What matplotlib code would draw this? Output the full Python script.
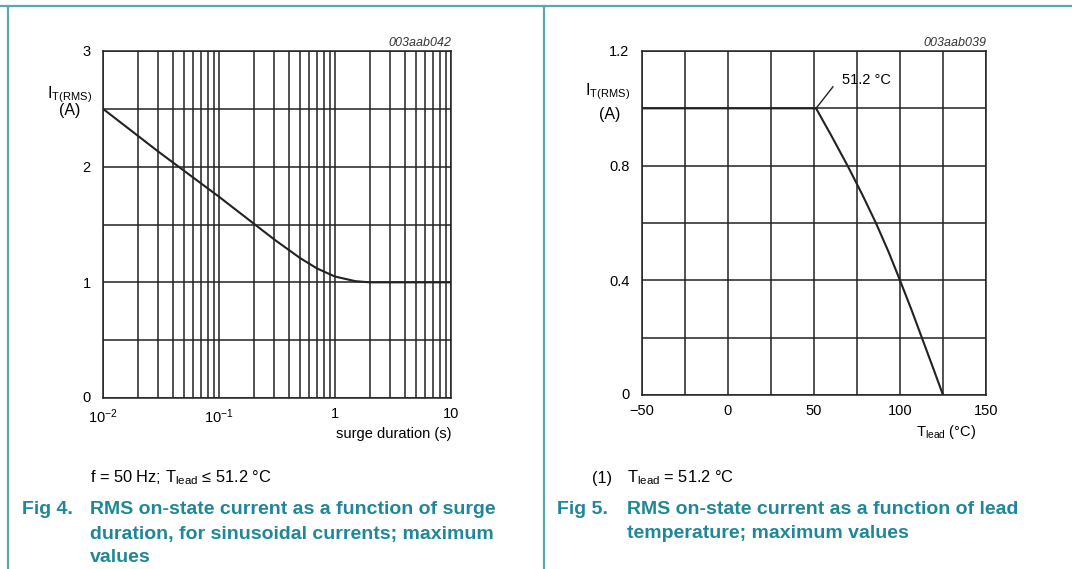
import numpy as np
import matplotlib
matplotlib.use("Agg")
import matplotlib.pyplot as plt
from matplotlib.lines import Line2D
from matplotlib.ticker import LogLocator, NullFormatter, FixedLocator
import matplotlib.transforms as mtransforms

plt.rcParams['font.family'] = ['Liberation Sans', 'DejaVu Sans']
plt.rcParams['mathtext.fontset'] = 'custom'
plt.rcParams['mathtext.rm'] = 'Liberation Sans'
plt.rcParams['mathtext.it'] = 'Liberation Sans:italic'
plt.rcParams['mathtext.bf'] = 'Liberation Sans:bold'
plt.rcParams['mathtext.default'] = 'regular'

# ---- data: Fig 4 (surge duration) ----
surge_t = [0.01, 0.03, 0.1, 0.3, 0.5, 0.7, 1.0, 1.5, 2.0, 10.0]
surge_i = [2.5, 2.13, 1.74, 1.37, 1.21, 1.12, 1.05, 1.01, 1.0, 1.0]
left_yticks = [0, 1, 2, 3]
left_xticks = [0.01, 0.1, 1, 10]
left_xticklabels = [r'$10^{-2}$', r'$10^{-1}$', '1', '10']

# ---- data: Fig 5 (lead temperature) ----
lead_t = [-50, 51.2, 60.5, 69.5, 78, 86, 93.3, 100, 106.5, 112.7, 118.9, 125]
lead_i = [1.0, 1.0, 0.9, 0.8, 0.7, 0.6, 0.5, 0.4, 0.3, 0.2, 0.1, 0.0]
right_yticks = [0, 0.4, 0.8, 1.2]
right_yticklabels = ['0', '0.4', '0.8', '1.2']
right_xticks = [-50, 0, 50, 100, 150]
right_xticklabels = ['\u221250', '0', '50', '100', '150']

W, H = 1072, 569
fig = plt.figure(figsize=(W / 100, H / 100), dpi=100)

def fx(px):
    return px / W

def fy(py):
    return 1 - py / H

teal = '#1f8799'
border = '#5aa7ad'
ink = '#222222'

# page borders
fig.add_artist(Line2D([0, 1], [fy(6), fy(6)], color=border, lw=1.6, transform=fig.transFigure))
fig.add_artist(Line2D([fx(8), fx(8)], [0, fy(6)], color=border, lw=1.6, transform=fig.transFigure))
fig.add_artist(Line2D([fx(544), fx(544)], [0, fy(6)], color=border, lw=1.6, transform=fig.transFigure))

lw_grid = 1.1
tick_fs = 10.5
lab_fs = 10.5

def lift_zero(ax):
    lab = ax.get_yticklabels()[0]
    off = mtransforms.ScaledTranslation(0, 1 / 72, fig.dpi_scale_trans)
    lab.set_transform(lab.get_transform() + off)

# ---- left axes ----
ax1 = fig.add_axes([fx(103), fy(398), fx(451) - fx(103), fy(51) - fy(398)])
ax1.set_xscale('log')
ax1.set_xlim(0.01, 10)
ax1.set_ylim(0, 3)
ax1.xaxis.set_major_locator(FixedLocator(left_xticks))
ax1.set_xticklabels(left_xticklabels)
ax1.xaxis.set_minor_locator(LogLocator(base=10, subs=np.arange(2, 10)))
ax1.xaxis.set_minor_formatter(NullFormatter())
ax1.set_yticks(left_yticks)
ax1.set_yticks([0.5, 1.5, 2.5], minor=True)
ax1.grid(True, which='both', color=ink, lw=lw_grid)
ax1.plot(surge_t, surge_i, color=ink, lw=1.5)
ax1.tick_params(which='both', length=0, labelsize=tick_fs)
ax1.tick_params(axis='y', pad=9)
ax1.tick_params(axis='x', pad=6.5)
for s in ax1.spines.values():
    s.set_color(ink)
    s.set_linewidth(lw_grid)
lift_zero(ax1)
ax1.text(1.0, 1.006, '003aab042', transform=ax1.transAxes, ha='right', va='bottom',
         fontsize=9, style='italic', color='#333333')
fig.text(fx(70), fy(95), r'$I_{T(RMS)}$', ha='center', va='center', fontsize=11.5)
fig.text(fx(70), fy(111), '(A)', ha='center', va='center', fontsize=11.5)
fig.text(fx(451), fy(434), 'surge duration (s)', ha='right', va='center', fontsize=lab_fs)

# ---- right axes ----
ax2 = fig.add_axes([fx(642), fy(395), fx(986) - fx(642), fy(51) - fy(395)])
ax2.set_xlim(-50, 150)
ax2.set_ylim(0, 1.2)
ax2.set_xticks(right_xticks)
ax2.set_xticklabels(right_xticklabels)
ax2.set_xticks(np.arange(-50, 151, 25), minor=True)
ax2.set_yticks(right_yticks)
ax2.set_yticklabels(right_yticklabels)
ax2.set_yticks(np.arange(0, 1.21, 0.2), minor=True)
ax2.grid(True, which='both', color=ink, lw=lw_grid)
ax2.plot(lead_t, lead_i, color=ink, lw=1.5)
ax2.plot([51.2, 61], [1.0, 1.075], color=ink, lw=1.0)
ax2.text(66, 1.1, '51.2 \u00b0C', fontsize=lab_fs, ha='left', va='center')
ax2.tick_params(which='both', length=0, labelsize=tick_fs)
ax2.tick_params(axis='y', pad=9)
ax2.tick_params(axis='x', pad=6.5)
for s in ax2.spines.values():
    s.set_color(ink)
    s.set_linewidth(lw_grid)
lift_zero(ax2)
ax2.text(1.0, 1.006, '003aab039', transform=ax2.transAxes, ha='right', va='bottom',
         fontsize=9, style='italic', color='#333333')
fig.text(fx(608), fy(92), r'$I_{T(RMS)}$', ha='center', va='center', fontsize=11.5)
fig.text(fx(610), fy(114), '(A)', ha='center', va='center', fontsize=11.5)
fig.text(fx(976), fy(432), r'$T_{lead}$ (°C)', ha='right', va='center', fontsize=lab_fs)

# ---- captions ----
cap_fs = 11.8
fig_fs = 14
fig.text(fx(90), fy(478), r'f = 50 Hz; $T_{lead}$ ≤ 51.2 °C', ha='left', va='center', fontsize=cap_fs)
fig.text(fx(22), fy(510), 'Fig 4.', ha='left', va='center', fontsize=fig_fs, color=teal, weight='bold')
fig.text(fx(90), fy(510), 'RMS on-state current as a function of surge', ha='left', va='center',
         fontsize=fig_fs, color=teal, weight='bold')
fig.text(fx(90), fy(534), 'duration, for sinusoidal currents; maximum', ha='left', va='center',
         fontsize=fig_fs, color=teal, weight='bold')
fig.text(fx(90), fy(557), 'values', ha='left', va='center',
         fontsize=fig_fs, color=teal, weight='bold')

fig.text(fx(592), fy(478), '(1)', ha='left', va='center', fontsize=cap_fs)
fig.text(fx(627), fy(478), r'$T_{lead}$ = 51.2 °C', ha='left', va='center', fontsize=cap_fs)
fig.text(fx(557), fy(510), 'Fig 5.', ha='left', va='center', fontsize=fig_fs, color=teal, weight='bold')
fig.text(fx(627), fy(510), 'RMS on-state current as a function of lead', ha='left', va='center',
         fontsize=fig_fs, color=teal, weight='bold')
fig.text(fx(627), fy(534), 'temperature; maximum values', ha='left', va='center',
         fontsize=fig_fs, color=teal, weight='bold')

fig.savefig('out.png', dpi=100)
